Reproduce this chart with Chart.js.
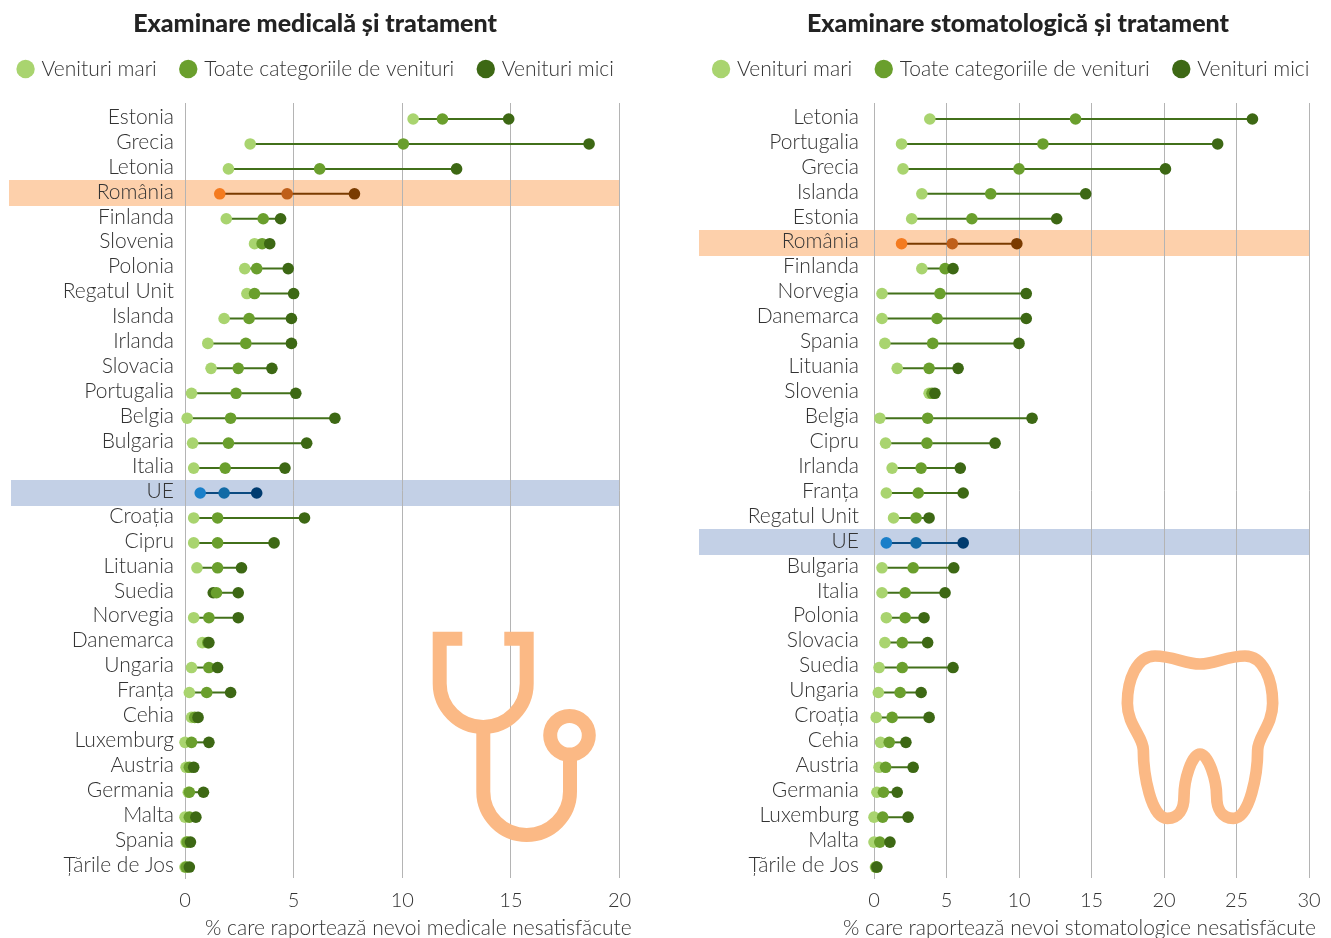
<!DOCTYPE html>
<html><head><meta charset="utf-8">
<script src="https://cdn.jsdelivr.net/npm/chart.js@4"></script>
<style>
html,body{margin:0;padding:0;background:#fff;width:1331px;height:938px;overflow:hidden}
canvas{position:absolute;top:0}
#c1{left:0}#c2{left:690px}
</style></head><body>
<canvas id="c1" width="650" height="938"></canvas>
<canvas id="c2" width="660" height="938"></canvas>
<script>
const seriesNames = ['Venituri mari','Toate categoriile de venituri','Venituri mici'];
const medCountries = ['Estonia','Grecia','Letonia','România','Finlanda','Slovenia','Polonia','Regatul Unit','Islanda','Irlanda','Slovacia','Portugalia','Belgia','Bulgaria','Italia','UE','Croația','Cipru','Lituania','Suedia','Norvegia','Danemarca','Ungaria','Franța','Cehia','Luxemburg','Austria','Germania','Malta','Spania','Țările de Jos'];
const medHigh = [10.5,3.0,2.0,1.6,1.9,3.2,2.75,2.85,1.8,1.05,1.2,0.3,0.1,0.35,0.4,0.7,0.4,0.4,0.55,1.3,0.4,0.8,0.3,0.2,0.3,0.0,0.05,0.15,0.0,0.05,0.0];
const medAll = [11.85,10.05,6.2,4.7,3.6,3.55,3.3,3.2,2.95,2.8,2.45,2.35,2.1,2.0,1.85,1.8,1.5,1.5,1.5,1.45,1.1,1.05,1.1,1.0,0.45,0.3,0.2,0.2,0.2,0.1,0.05];
const medLow = [14.9,18.6,12.5,7.8,4.4,3.9,4.75,5.0,4.9,4.9,4.0,5.1,6.9,5.6,4.6,3.3,5.5,4.1,2.6,2.45,2.45,1.1,1.5,2.1,0.6,1.1,0.4,0.85,0.5,0.25,0.2];
const denCountries = ['Letonia','Portugalia','Grecia','Islanda','Estonia','România','Finlanda','Norvegia','Danemarca','Spania','Lituania','Slovenia','Belgia','Cipru','Irlanda','Franța','Regatul Unit','UE','Bulgaria','Italia','Polonia','Slovacia','Suedia','Ungaria','Croația','Cehia','Austria','Germania','Luxemburg','Malta','Țările de Jos'];
const denHigh = [3.85,1.9,2.0,3.3,2.6,1.9,3.3,0.55,0.55,0.75,1.6,3.8,0.4,0.8,1.25,0.85,1.35,0.85,0.55,0.55,0.85,0.75,0.35,0.3,0.15,0.45,0.35,0.2,0.0,0.0,0.1];
const denAll = [13.9,11.65,10.0,8.05,6.75,5.4,4.9,4.55,4.35,4.05,3.8,4.0,3.7,3.65,3.25,3.05,2.9,2.9,2.7,2.15,2.15,1.95,1.95,1.8,1.25,1.05,0.8,0.65,0.6,0.4,0.15];
const denLow = [26.1,23.7,20.1,14.6,12.6,9.85,5.45,10.5,10.5,10.0,5.8,4.2,10.9,8.35,5.95,6.15,3.8,6.15,5.5,4.9,3.45,3.7,5.45,3.25,3.8,2.2,2.7,1.6,2.35,1.1,0.2];
const medTicks = [0,5,10,15,20];
const denTicks = [0,5,10,15,20,25,30];

const SANS = 'Lato, "Open Sans", sans-serif';
const TEXT = '#333333', GRID = '#b4b4b4';
const GREEN = ['#a9d46f','#6a9f2d','#3d6814'], LINE = '#42701a';
const ACCENT = {
  'România': {pts:['#f47b20','#bf5f1a','#7a3b00'], line:'#7a3b00', band:'#fdd0ab', bandLeft:176},
  'UE': {pts:['#1a7fc9','#116aa5','#003b6f'], line:'#0b4a80', band:'#c3d0e6', bandLeft:174}
};

const toothPath = 'M330,102 C375,102 410,78 465,78 C520,78 548,150 548,220 C548,285 503,320 503,360 C503,430 480,565 430,565 C395,565 380,535 380,500 C380,450 355,372 330,372 C305,372 282,450 282,500 C282,535 267,565 232,565 C182,565 160,430 160,360 C160,320 112,285 112,220 C112,150 140,78 195,78 C250,78 285,102 330,102 Z';
function drawStethoscope(ctx, ox){
  ctx.save(); ctx.translate(-ox,0);
  ctx.strokeStyle='#fbb985'; ctx.lineWidth=14;
  ctx.stroke(new Path2D('M462.3,638.7 H439.7 V683.5 A43.5,43.5 0 0 0 526.7,683.5 V638.7 H504.3'));
  ctx.stroke(new Path2D('M483.3,727 V791.6 A43.35,43.35 0 0 0 570,791.6 V752'));
  ctx.beginPath(); ctx.arc(569.5,735.3,19.3,0,Math.PI*2); ctx.stroke();
  ctx.restore();
}
function drawTooth(ctx, ox){
  ctx.save(); ctx.translate(1090-ox,630); ctx.scale(1/3,1/3);
  ctx.strokeStyle='#fbb985'; ctx.lineWidth=35;
  ctx.stroke(new Path2D(toothPath));
  ctx.restore();
}

function makeChart(id, cfg){
  const colourFn = (s) => (c) => {
    const name = cfg.names[c.dataIndex];
    if (cfg.override && cfg.override[name] && cfg.override[name][s]) return cfg.override[name][s];
    return ACCENT[name] ? ACCENT[name].pts[s] : GREEN[s];
  };
  const sets = [cfg.high, cfg.all, cfg.low].map((vals,s)=>({
    type:'scatter', label:seriesNames[s], order:3-s, clip:false,
    data: vals.map((v,i)=>({x:v,y:i})),
    pointRadius:5.8, pointHoverRadius:5.8, pointBorderWidth:0,
    pointBackgroundColor:colourFn(s), backgroundColor:GREEN[s], borderColor:GREEN[s], showLine:false
  }));
  const links = cfg.names.map((name,i)=>({
    type:'scatter', label:'', order:5, showLine:true, pointRadius:0, borderWidth:2, clip:false,
    borderColor: ACCENT[name] ? ACCENT[name].line : LINE,
    data:[{x:cfg.high[i],y:i},{x:cfg.low[i],y:i}]
  }));
  const pagePlugin = {
    id:'page',
    beforeDraw(ch){
      const {ctx,chartArea:a,scales:{y}} = ch;
      cfg.names.forEach((name,i)=>{
        if(!ACCENT[name]) return;
        ctx.fillStyle = ACCENT[name].band;
        const yy = y.getPixelForValue(i), left = a.left - (cfg.bandLeft?cfg.bandLeft[name]:ACCENT[name].bandLeft);
        ctx.fillRect(left, Math.floor(yy-13), a.right+0.5-left, 26);
      });
    },
    beforeDatasetsDraw(ch){ cfg.icon(ch.ctx, cfg.ox); },
    afterLayout(ch){
      ch.titleBlock.left += cfg.titleShift; ch.titleBlock.right += cfg.titleShift;
      ch.legend.left += cfg.legendShift; ch.legend.right += cfg.legendShift;
    },
    afterDraw(ch){
      const ctx = ch.ctx; ctx.save();
      ctx.font = '300 21px '+SANS; ctx.fillStyle = TEXT;
      ctx.textAlign='left'; ctx.textBaseline='middle';
      ctx.fillText(cfg.xTitle, cfg.xTitleX - cfg.ox, 928);
      ctx.restore();
    }
  };
  return new Chart(document.getElementById(id), {
    type:'scatter',
    data:{datasets:[...sets,...links]},
    plugins:[pagePlugin],
    options:{
      responsive:false, animation:false, devicePixelRatio:1,
      layout:{padding:0},
      plugins:{
        tooltip:{enabled:false},
        title:{display:true,text:cfg.title,color:'#232323',font:{family:SANS,size:25,weight:'900',lineHeight:1},padding:{top:11.5,bottom:-4}},
        legend:{display:true,position:'top',
          labels:{usePointStyle:true,pointStyle:'circle',boxWidth:11,boxHeight:13,padding:26,color:TEXT,
            font:{family:SANS,size:21,weight:'300'},
            filter:(it)=>it.datasetIndex<3,
            sort:(a,b)=>a.datasetIndex-b.datasetIndex}}
      },
      scales:{
        x:{type:'linear',min:0,max:cfg.xMax,position:'bottom',
          afterBuildTicks:(s)=>{s.ticks=cfg.ticks.map(v=>({value:v}));},
          afterFit:(s)=>{s.height=60;s.paddingRight=0;},
          grid:{color:GRID,lineWidth:1,drawTicks:true,tickLength:11,tickColor:'rgba(0,0,0,0)'},
          border:{display:false},
          ticks:{color:TEXT,padding:0,maxRotation:0,font:{family:SANS,size:20,weight:'300'}}},
        y:{type:'linear',reverse:true,min:-0.642,max:30.44,position:'left',
          afterFit:(s)=>{s.width=cfg.left;},
          grid:{display:false},
          border:{color:GRID,width:1},
          ticks:{stepSize:1,includeBounds:false,autoSkip:false,color:TEXT,padding:cfg.yPad,labelOffset:-2,
            font:{family:SANS,size:21,weight:'300'},
            callback:(v)=>cfg.names[v]}},
        topGap:{type:'linear',position:'top',grid:{display:false},border:{display:false},ticks:{display:false},
          afterFit:(s)=>{s.height=13.5;}},
        rightGap:{type:'linear',position:'right',grid:{display:false},border:{display:false},ticks:{display:false},
          afterFit:(s)=>{s.width=cfg.right;}}
      }
    }
  });
}

makeChart('c1',{names:medCountries,high:medHigh,all:medAll,low:medLow,ticks:medTicks,xMax:20,yPad:3,
  title:'Examinare medicală și tratament',xTitle:'% care raportează nevoi medicale nesatisfăcute',xTitleX:205,
  left:185,right:30.5,ox:0,icon:drawStethoscope,override:{'Suedia':{0:'#3d6814'}},titleShift:-10,legendShift:-8});
makeChart('c2',{names:denCountries,high:denHigh,all:denAll,low:denLow,ticks:denTicks,xMax:30,yPad:7,
  title:'Examinare stomatologică și tratament',xTitle:'% care raportează nevoi stomatologice nesatisfăcute',xTitleX:843,
  left:184,right:41,ox:690,icon:drawTooth,titleShift:-2,legendShift:-7.5,bandLeft:{'România':175,'UE':175}});
</script>
</body></html>
